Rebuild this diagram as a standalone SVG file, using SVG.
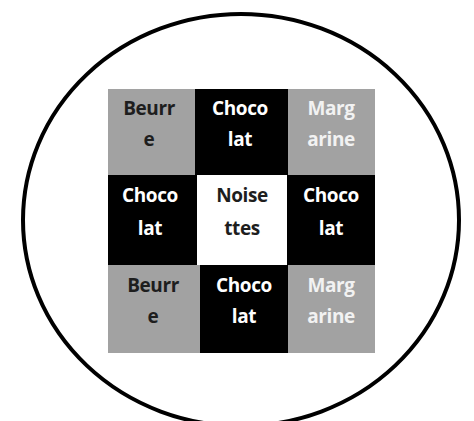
<svg xmlns="http://www.w3.org/2000/svg" width="474" height="421" viewBox="0 0 474 421">
  <style>
    .lbl { font-family: "Open Sans", "Liberation Sans", sans-serif; font-weight: 700; font-size: 19px; letter-spacing: -0.4px; text-anchor: middle; }
    .gray { fill: #a2a2a2; }
    .black { fill: #000000; }
    .white { fill: #ffffff; }
    .dark { fill: #1e1e1e; }
    .light { fill: #f2f2f2; }
  </style>
  <rect width="474" height="421" fill="#ffffff"/>
  <!-- outer ring -->
  <ellipse cx="241" cy="220" rx="218" ry="206" fill="none" stroke="#000" stroke-width="4"/>

  <!-- top row -->
  <g id="cell-beurre-top">
    <rect class="gray" x="108" y="89" width="87" height="87"/>
    <text class="lbl dark" x="149" y="115">Beurr</text>
    <text class="lbl dark" x="149" y="146">e</text>
  </g>
  <g id="cell-chocolat-top">
    <rect class="black" x="195" y="89" width="93" height="87"/>
    <text class="lbl white" x="240" y="115">Choco</text>
    <text class="lbl white" x="240" y="146">lat</text>
  </g>
  <g id="cell-margarine-top">
    <rect class="gray" x="288" y="89" width="87" height="87"/>
    <text class="lbl light" x="331" y="115">Marg</text>
    <text class="lbl light" x="331" y="146">arine</text>
  </g>

  <!-- middle row -->
  <g id="cell-chocolat-left">
    <rect class="black" x="108" y="175" width="89" height="90"/>
    <text class="lbl white" x="150" y="202">Choco</text>
    <text class="lbl white" x="150" y="235">lat</text>
  </g>
  <g id="cell-noisettes">
    <rect class="white" x="197" y="175" width="90" height="90"/>
    <text class="lbl dark" x="242" y="202">Noise</text>
    <text class="lbl dark" x="242" y="235">ttes</text>
  </g>
  <g id="cell-chocolat-right">
    <rect class="black" x="287" y="175" width="88" height="90"/>
    <text class="lbl white" x="331" y="202">Choco</text>
    <text class="lbl white" x="331" y="235">lat</text>
  </g>

  <!-- bottom row -->
  <g id="cell-beurre-bottom">
    <rect class="gray" x="108" y="265" width="92" height="88"/>
    <text class="lbl dark" x="153" y="292">Beurr</text>
    <text class="lbl dark" x="153" y="323">e</text>
  </g>
  <g id="cell-chocolat-bottom">
    <rect class="black" x="200" y="265" width="88" height="88"/>
    <text class="lbl white" x="244" y="292">Choco</text>
    <text class="lbl white" x="244" y="323">lat</text>
  </g>
  <g id="cell-margarine-bottom">
    <rect class="gray" x="288" y="265" width="87" height="88"/>
    <text class="lbl light" x="331" y="292">Marg</text>
    <text class="lbl light" x="331" y="323">arine</text>
  </g>

  <g id="connectors"/>
</svg>
